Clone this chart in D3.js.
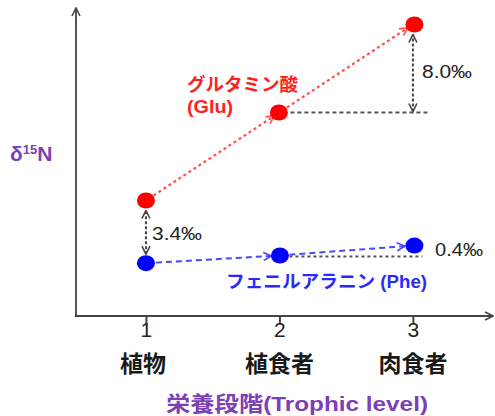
<!DOCTYPE html>
<html><head><meta charset="utf-8">
<script src="https://cdn.jsdelivr.net/npm/d3@7"></script>
<style>
html,body{margin:0;padding:0;background:#fff;}
svg{display:block;}
text{font-family:"Liberation Sans",Arial,"Noto Sans CJK JP",sans-serif;}
</style></head><body>
<svg id="c" width="495" height="416"></svg>
<script>
const levels = [1, 2, 3];
const tickLabels = ["1", "2", "3"];
const categoryLabels = ["植物", "植食者", "肉食者"];
const glu = [10.5, 18.5, 26.5];
const phe = [4.8, 5.5, 6.4];
const diffLabels = ["3.4‰", "8.0‰", "0.4‰"];
const gluName = ["グルタミン酸", "(Glu)"];
const pheName = "フェニルアラニン (Phe)";
const yTitle = "δ15N";
const xTitle = "栄養段階(Trophic level)";

const svg = d3.select("#c");
const x = d3.scaleLinear().domain([0.476, 3.6]).range([76, 493]);
const y = d3.scaleLinear().domain([0, 28]).range([316, 8]);

const defs = svg.append("defs");
function marker(id, color) {
  defs.append("marker").attr("id", id).attr("viewBox", "0 0 10 10")
    .attr("refX", 9).attr("refY", 5).attr("markerWidth", 10).attr("markerHeight", 10)
    .attr("markerUnits", "userSpaceOnUse").attr("orient", "auto-start-reverse")
    .append("path").attr("d", "M1,1 L9,5 L1,9").attr("fill", "none")
    .attr("stroke", color).attr("stroke-width", 1.6);
}
marker("ax", "#444");
marker("red", "#ff5050");
marker("blue", "#4848ff");
marker("blk", "#444");

// axes
svg.append("line").attr("x1", x.range()[0]).attr("x2", x.range()[0])
  .attr("y1", y(0) + 1).attr("y2", y.range()[1])
  .attr("stroke", "#555").attr("stroke-width", 2).attr("marker-end", "url(#ax)");
svg.append("line").attr("x1", x.range()[0] - 1).attr("x2", x.range()[1])
  .attr("y1", y(0)).attr("y2", y(0))
  .attr("stroke", "#444").attr("stroke-width", 2).attr("marker-end", "url(#ax)");

const xAxis = d3.axisBottom(x).tickValues(levels).tickFormat((d, i) => tickLabels[i])
  .tickSize(8).tickSizeOuter(0);
const gx = svg.append("g").attr("transform", `translate(0,${y(0)})`).call(xAxis);
gx.select(".domain").remove();
gx.selectAll(".tick line").attr("stroke", "#444").attr("stroke-width", 2);
gx.selectAll(".tick text").attr("font-size", 21).attr("fill", "#222").attr("dy", "0.4em").attr("y", 13);

svg.selectAll(".cat").data(categoryLabels).join("text").attr("class", "cat")
  .attr("x", (d, i) => x(levels[i]) - (i === 0 ? 3 : 0)).attr("y", 372).attr("text-anchor", "middle")
  .attr("font-size", 23).attr("font-weight", "bold").attr("fill", "#1a1a1a").text(d => d);

// titles
svg.append("text").attr("x", 297).attr("y", 411).attr("text-anchor", "middle")
  .attr("font-size", 21).attr("font-weight", "bold").attr("fill", "#7d3fb5")
  .attr("textLength", 262).attr("lengthAdjust", "spacingAndGlyphs").text(xTitle);
const yt = svg.append("text").attr("x", 10).attr("y", 161).attr("font-size", 21)
  .attr("font-weight", "bold").attr("fill", "#7d3fb5");
yt.append("tspan").text("δ");
yt.append("tspan").attr("font-size", 13).attr("dy", -7).text("15");
yt.append("tspan").attr("dy", 7).text("N");

function seg(x1, y1, x2, y2, r1, r2) {
  const dx = x2 - x1, dy = y2 - y1, L = Math.hypot(dx, dy);
  return [x1 + dx / L * r1, y1 + dy / L * r1, x2 - dx / L * r2, y2 - dy / L * r2];
}

for (let i = 0; i < levels.length - 1; i++) {
  const s = seg(x(levels[i]), y(glu[i]), x(levels[i + 1]), y(glu[i + 1]), 9, 6);
  svg.append("line").attr("x1", s[0]).attr("y1", s[1]).attr("x2", s[2]).attr("y2", s[3])
    .attr("stroke", "#ff5050").attr("stroke-width", 2.2).attr("stroke-dasharray", "3,3")
    .attr("marker-end", "url(#red)");
}
for (let i = 0; i < levels.length - 1; i++) {
  const s = seg(x(levels[i]), y(phe[i]), x(levels[i + 1]), y(phe[i + 1]), 10, 8);
  svg.append("line").attr("x1", s[0]).attr("y1", s[1]).attr("x2", s[2]).attr("y2", s[3])
    .attr("stroke", "#4848ff").attr("stroke-width", 2).attr("stroke-dasharray", "6,4")
    .attr("marker-end", "url(#blue)");
}

svg.append("line").attr("x1", x(levels[1]) + 11).attr("x2", x(3.13))
  .attr("y1", y(glu[1])).attr("y2", y(glu[1]))
  .attr("stroke", "#555").attr("stroke-width", 2).attr("stroke-dasharray", "4,3");
svg.append("line").attr("x1", x(levels[1]) + 10).attr("x2", x(3.07))
  .attr("y1", y(phe[1]) + 1).attr("y2", y(phe[1]) + 1)
  .attr("stroke", "#555").attr("stroke-width", 2).attr("stroke-dasharray", "3,3");

function dbl(xv, v1, v2, pad1, pad2) {
  svg.append("line").attr("x1", x(xv)).attr("x2", x(xv))
    .attr("y1", y(v1) - pad1).attr("y2", y(v2) + pad2)
    .attr("stroke", "#444").attr("stroke-width", 2).attr("stroke-dasharray", "3,2")
    .attr("marker-start", "url(#blk)").attr("marker-end", "url(#blk)");
}
dbl(levels[0], phe[0], glu[0], 9, 10);
dbl(levels[2], glu[1], glu[2], 1, 10);

svg.selectAll(".rp").data(glu).join("ellipse").attr("class", "rp")
  .attr("cx", (d, i) => x(levels[i]) + (i === 2 ? 1.5 : i === 1 ? -0.5 : 0)).attr("cy", d => y(d))
  .attr("rx", 9).attr("ry", 8).attr("fill", "#ff0000");
svg.selectAll(".bp").data(phe).join("ellipse").attr("class", "bp")
  .attr("cx", (d, i) => x(levels[i]) + (i === 2 ? 1.5 : i === 1 ? 0.5 : 0)).attr("cy", d => y(d))
  .attr("rx", 9).attr("ry", 8).attr("fill", "#0000ff");

const lab = [[152, 240], [422, 78], [435, 256]];
const labW = [50, 50, 48];
svg.selectAll(".dl").data(diffLabels).join("text").attr("class", "dl")
  .attr("x", (d, i) => lab[i][0]).attr("y", (d, i) => lab[i][1])
  .attr("font-size", 19).attr("fill", "#222")
  .attr("textLength", (d, i) => labW[i]).attr("lengthAdjust", "spacingAndGlyphs").text(d => d);

svg.append("text").attr("x", 187).attr("y", 91).attr("font-size", 18).attr("font-weight", "bold")
  .attr("fill", "#ff2020").attr("textLength", 111).attr("lengthAdjust", "spacingAndGlyphs").text(gluName[0]);
svg.append("text").attr("x", 187).attr("y", 113).attr("font-size", 18).attr("font-weight", "bold")
  .attr("fill", "#ff2020").attr("textLength", 46).attr("lengthAdjust", "spacingAndGlyphs").text(gluName[1]);
svg.append("text").attr("x", 226).attr("y", 288).attr("font-size", 18).attr("font-weight", "bold")
  .attr("fill", "#2a2aff").attr("textLength", 201).attr("lengthAdjust", "spacingAndGlyphs").text(pheName);
</script>
</body></html>
